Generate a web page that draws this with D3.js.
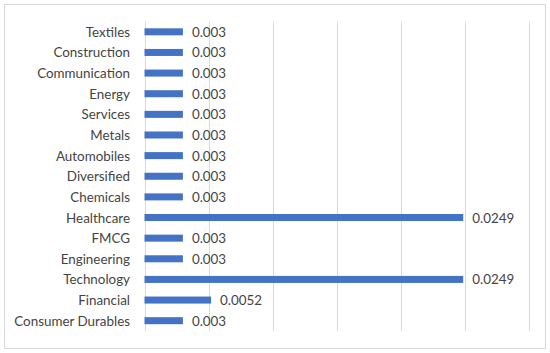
<!DOCTYPE html>
<html>
<head>
<meta charset="utf-8">
<script src="https://cdn.jsdelivr.net/npm/d3@7"></script>
<style>
  body { margin: 0; background: #fff; }
  svg text { font-family: Lato, "Open Sans", sans-serif; fill: #444; }
</style>
</head>
<body>
<svg id="chart" width="550" height="353"></svg>
<script>
// sector weights, top to bottom as drawn
const sectors = ["Textiles", "Construction", "Communication", "Energy", "Services", "Metals",
  "Automobiles", "Diversified", "Chemicals", "Healthcare", "FMCG", "Engineering",
  "Technology", "Financial", "Consumer Durables"];
const weights = [0.003, 0.003, 0.003, 0.003, 0.003, 0.003,
  0.003, 0.003, 0.003, 0.0249, 0.003, 0.003,
  0.0249, 0.0052, 0.003];
const gridTicks = [0, 0.005, 0.01, 0.015, 0.02, 0.025, 0.03];

const w = 550, h = 353;
const svg = d3.select("#chart");

// outer frame
svg.append("rect")
  .attr("x", 4.5).attr("y", 4.5)
  .attr("width", w - 9).attr("height", h - 9)
  .attr("fill", "#fff")
  .attr("stroke", "#d9d9d9");

const x = d3.scaleLinear().domain([0, 0.03]).range([144.5, 528.5]);
const y = d3.scaleBand().domain(sectors).range([21.5, 331]).paddingInner(0.66).paddingOuter(0.33);

svg.append("g")
  .selectAll("line")
  .data(gridTicks)
  .join("line")
  .attr("x1", d => Math.round(x(d)) + 0.5)
  .attr("x2", d => Math.round(x(d)) + 0.5)
  .attr("y1", 21.5).attr("y2", 331)
  .attr("stroke", "#d9d9d9");

const data = sectors.map((s, i) => ({ s, v: weights[i] }));

svg.append("g")
  .selectAll("rect")
  .data(data)
  .join("rect")
  .attr("x", x(0))
  .attr("y", d => y(d.s))
  .attr("width", d => x(d.v) - x(0))
  .attr("height", y.bandwidth())
  .attr("fill", "#4472c4");

// category labels
svg.append("g")
  .selectAll("text")
  .data(data)
  .join("text")
  .attr("x", 130)
  .attr("y", d => y(d.s) + y.bandwidth() / 2)
  .attr("text-anchor", "end")
  .attr("dominant-baseline", "central")
  .attr("font-size", 13.4)
  .text(d => d.s);

// value labels
svg.append("g")
  .selectAll("text")
  .data(data)
  .join("text")
  .attr("x", d => x(d.v) + 9)
  .attr("y", d => y(d.s) + y.bandwidth() / 2)
  .attr("dominant-baseline", "central")
  .attr("font-size", 13.4)
  .text(d => String(d.v));
</script>
</body>
</html>
